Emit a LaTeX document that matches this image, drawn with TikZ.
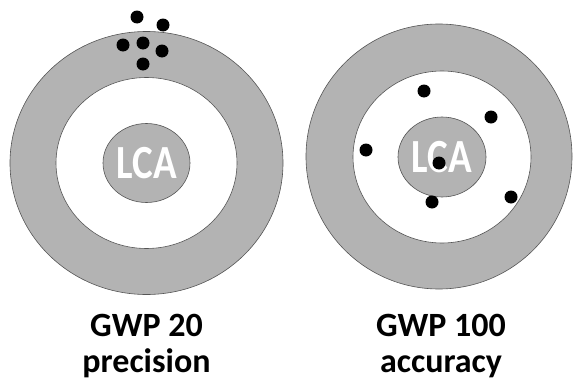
\documentclass[tikz,border=0pt]{standalone}
\usepackage{fontspec}
\setmainfont{Carlito}
\usetikzlibrary{shapes.geometric}
\definecolor{ringgray}{RGB}{179,179,179}
\definecolor{edgegray}{RGB}{85,85,85}
\newcommand{\tallword}[1]{\scalebox{1}[1.22]{#1}}

\begin{document}
\begin{tikzpicture}[x=1pt, y=-1pt,
    ring/.style={ellipse, draw=edgegray, line width=0.6pt, inner sep=0pt},
    outer/.style={ring, fill=ringgray},
    hole/.style={ring, fill=white},
    bull/.style={ring, fill=ringgray, text=white, font=\fontsize{39}{39}\selectfont\bfseries},
    shot/.style={circle, fill=black, inner sep=0pt, minimum size=13pt},
    caption/.style={align=center, anchor=base, font=\fontsize{34}{36}\selectfont\bfseries}
]
\useasboundingbox (0,0) rectangle (573,380);

% Left target (precision)
\node[outer, minimum width=273pt, minimum height=263pt] (outerL) at (146.5,163) {};
\node[hole, minimum width=181pt, minimum height=171pt] (holeL) at (outerL.center) {};
\node[bull, minimum width=87pt, minimum height=79pt] (lcaL) at (outerL.center) {\tallword{LCA}};

\foreach \px/\py [count=\i] in {137/17, 163/25, 123/45, 143/43, 162/51, 143/64}
    \node[shot] (shotL\i) at (\px,\py) {};

% Right target (accuracy)
\node[outer, minimum width=266pt, minimum height=265pt] (outerR) at (439,156.5) {};
\node[hole, minimum width=178pt, minimum height=172pt] (holeR) at (442,157) {};
\node[bull, minimum width=88pt, minimum height=80pt] (lcaR) at (442,157) {\tallword{LCA}};

\foreach \px/\py [count=\i] in {424/91, 491/117, 366/150, 439/163, 432/202, 511/197}
    \node[shot] (shotR\i) at (\px,\py) {};

% Captions (anchor is the last line's baseline)
\node[caption] (capL) at (146.5,372) {GWP 20\\precision};
\node[caption] (capR) at (441,372) {GWP 100\\accuracy};

\end{tikzpicture}
\end{document}
